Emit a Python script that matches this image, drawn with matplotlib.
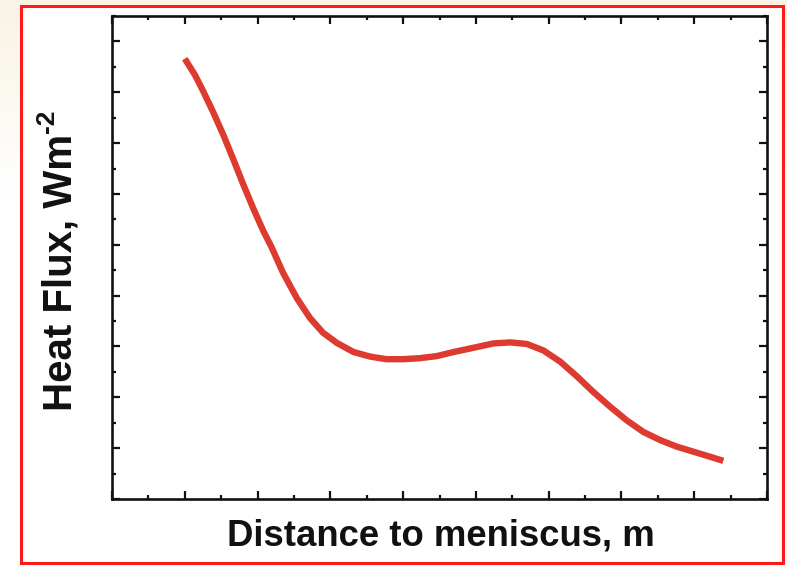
import numpy as np
import matplotlib
matplotlib.use("Agg")
import matplotlib.pyplot as plt
from matplotlib.patches import Rectangle
from matplotlib.ticker import MultipleLocator, NullFormatter

# Data (arbitrary axis units, no tick labels)
distance = [1.00, 1.14, 1.25, 1.39, 1.53, 1.67, 1.80, 1.94, 2.08, 2.19, 2.35,
            2.54, 2.72, 2.90, 3.09, 3.32, 3.55, 3.77, 4.00, 4.23, 4.46, 4.69,
            4.92, 5.24, 5.47, 5.70, 5.93, 6.16, 6.39, 6.61, 6.84, 7.07, 7.30,
            7.53, 7.76, 7.99, 8.22, 8.40]
heat_flux = [8.66, 8.34, 8.03, 7.61, 7.16, 6.67, 6.20, 5.72, 5.27, 4.96, 4.45,
             3.95, 3.56, 3.27, 3.07, 2.89, 2.80, 2.75, 2.75, 2.77, 2.81, 2.89,
             2.96, 3.06, 3.08, 3.05, 2.92, 2.70, 2.41, 2.11, 1.82, 1.55, 1.32,
             1.16, 1.03, 0.93, 0.83, 0.75]
x_label = "Distance to meniscus, m"
y_label = "Heat Flux, Wm"
y_label_sup = "-2"

plt.rcParams['font.family'] = ['Liberation Sans', 'DejaVu Sans']

W, H = 787, 565
fig = plt.figure(figsize=(W / 100, H / 100), dpi=100)

# background gradient (cream at top fading to white)
bg = fig.add_axes([0, 0, 1, 1], zorder=-10)
grad = np.linspace(0, 1, 256)[:, None]
top = np.array([0.975, 0.955, 0.895])
white = np.array([1.0, 1.0, 1.0])
t = np.clip(grad / 0.35, 0, 1)
img = (top[None, None, :] * (1 - t[..., None]) + white[None, None, :] * t[..., None])
bg.imshow(np.repeat(img, 4, axis=1), aspect='auto', extent=[0, 1, 0, 1], origin='upper')
bg.set_xlim(0, 1); bg.set_ylim(0, 1); bg.axis('off')

# white panel with red frame
fig.patches.append(Rectangle((21 / W, (H - 563) / H), (783 - 21) / W, (563 - 6) / H,
                             transform=fig.transFigure, facecolor='white',
                             edgecolor='#ff1a1a', linewidth=2.2, zorder=-5))

ax = fig.add_axes([112 / W, (H - 499) / H, (767 - 112) / W, (499 - 16) / H])
ax.plot(distance, heat_flux, color='#dd3a30', linewidth=4.6,
        solid_capstyle='butt', solid_joinstyle='round')
ax.set_xlim(0, 9)
ax.set_ylim(0, 9.5)
ax.xaxis.set_major_locator(MultipleLocator(1))
ax.xaxis.set_minor_locator(MultipleLocator(0.5))
ax.yaxis.set_major_locator(MultipleLocator(1))
ax.yaxis.set_minor_locator(MultipleLocator(0.5))
ax.xaxis.set_major_formatter(NullFormatter())
ax.yaxis.set_major_formatter(NullFormatter())
ax.tick_params(which='both', direction='in', top=True, right=True, color='#111111')
ax.tick_params(which='major', length=6, width=1.6)
ax.tick_params(which='minor', length=3, width=1.6)
for s in ax.spines.values():
    s.set_linewidth(1.9)
    s.set_color('#111111')

fig.text(441 / W, 1 - 536 / H, x_label, ha='center', va='center',
         fontsize=26.3, fontweight='bold', color='#111111')
yl = fig.text(61 / W, 1 - 272 / H, y_label, ha='center', va='center', rotation=90,
              fontsize=29, fontweight='bold', color='#111111')
fig.canvas.draw()
ax.annotate(y_label_sup, xy=(0.12, 1.0), xycoords=yl, ha='center', va='bottom',
            rotation=90, fontsize=19, fontweight='bold', color='#111111',
            annotation_clip=False)

fig.savefig('out.png', dpi=100)
